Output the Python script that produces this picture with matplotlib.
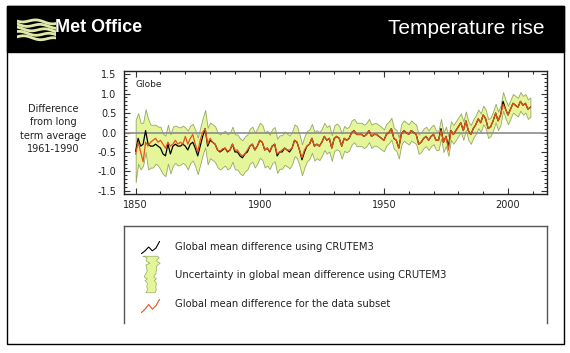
import numpy as np
import matplotlib
matplotlib.use("Agg")
import matplotlib.pyplot as plt
from matplotlib.patches import Rectangle
from matplotlib.ticker import MultipleLocator

# ---------------- data ----------------
years = list(range(1850, 2010))

crutem3 = [
    -0.48, -0.15, -0.35, -0.30, 0.05, -0.30, -0.35, -0.35, -0.30, -0.35,
    -0.40, -0.55, -0.60, -0.30, -0.55, -0.35, -0.30, -0.35, -0.35, -0.30,
    -0.35, -0.45, -0.30, -0.25, -0.40, -0.60, -0.35, -0.10, 0.10, -0.35,
    -0.20, -0.25, -0.30, -0.45, -0.50, -0.45, -0.40, -0.50, -0.45, -0.30,
    -0.50, -0.50, -0.60, -0.65, -0.55, -0.50, -0.35, -0.30, -0.45, -0.35,
    -0.20, -0.25, -0.45, -0.40, -0.50, -0.35, -0.30, -0.60, -0.50, -0.50,
    -0.40, -0.45, -0.50, -0.40, -0.20, -0.25, -0.45, -0.70, -0.50, -0.35,
    -0.30, -0.15, -0.35, -0.30, -0.35, -0.25, -0.10, -0.20, -0.15, -0.40,
    -0.15, -0.10, -0.15, -0.35, -0.15, -0.20, -0.15, 0.00, 0.05, -0.05,
    -0.05, -0.05, -0.10, -0.05, 0.05, -0.10, -0.05, -0.05, -0.10, -0.15,
    -0.20, -0.05, 0.00, 0.10, -0.15, -0.20, -0.40, -0.05, 0.05, 0.00,
    -0.05, 0.05, 0.00, -0.05, -0.30, -0.25, -0.15, -0.10, -0.20, -0.10,
    -0.05, -0.20, -0.20, 0.10, -0.25, -0.10, -0.35, 0.05, -0.05, 0.05,
    0.15, 0.25, 0.05, 0.30, 0.05, -0.05, 0.10, 0.20, 0.35, 0.25,
    0.45, 0.35, 0.10, 0.15, 0.30, 0.50, 0.30, 0.45, 0.80, 0.60,
    0.45, 0.60, 0.75, 0.70, 0.65, 0.80, 0.70, 0.75, 0.60, 0.65,
]

subset = [
    -0.55, -0.25, -0.50, -0.75, -0.25, -0.35, -0.25, -0.20, -0.15, -0.25,
    -0.20, -0.30, -0.40, -0.25, -0.35, -0.30, -0.20, -0.30, -0.25, -0.30,
    -0.10, -0.30, -0.15, -0.05, -0.30, -0.50, -0.20, 0.00, 0.10, -0.30,
    -0.15, -0.25, -0.30, -0.45, -0.48, -0.42, -0.40, -0.48, -0.45, -0.30,
    -0.45, -0.45, -0.55, -0.60, -0.55, -0.45, -0.35, -0.30, -0.45, -0.35,
    -0.20, -0.25, -0.45, -0.40, -0.48, -0.35, -0.30, -0.55, -0.50, -0.45,
    -0.40, -0.45, -0.45, -0.40, -0.20, -0.25, -0.45, -0.65, -0.45, -0.35,
    -0.30, -0.15, -0.35, -0.30, -0.35, -0.25, -0.10, -0.20, -0.15, -0.40,
    -0.15, -0.10, -0.15, -0.35, -0.15, -0.20, -0.15, 0.00, 0.05, -0.05,
    -0.05, -0.05, -0.10, -0.05, 0.05, -0.10, -0.05, -0.05, -0.10, -0.15,
    -0.20, -0.05, 0.00, 0.10, -0.15, -0.20, -0.40, -0.05, 0.05, 0.00,
    -0.05, 0.05, 0.00, -0.05, -0.30, -0.25, -0.15, -0.10, -0.20, -0.10,
    -0.05, -0.20, -0.20, 0.05, -0.25, -0.10, -0.45, 0.05, -0.05, 0.05,
    0.15, 0.25, 0.05, 0.30, 0.05, -0.05, 0.10, 0.20, 0.35, 0.25,
    0.45, 0.35, 0.10, 0.15, 0.30, 0.50, 0.30, 0.45, 0.72, 0.60,
    0.45, 0.60, 0.75, 0.70, 0.65, 0.80, 0.70, 0.75, 0.60, 0.65,
]

half_width = [
    0.80, 0.65, 0.60, 0.55, 0.55, 0.65, 0.55, 0.55, 0.50, 0.50,
    0.55, 0.52, 0.52, 0.50, 0.50, 0.50, 0.48, 0.50, 0.48, 0.48,
    0.48, 0.50, 0.48, 0.47, 0.47, 0.47, 0.47, 0.47, 0.48, 0.47,
    0.46, 0.46, 0.46, 0.45, 0.45, 0.45, 0.45, 0.45, 0.45, 0.45,
    0.45, 0.45, 0.45, 0.45, 0.45, 0.45, 0.45, 0.45, 0.45, 0.45,
    0.45, 0.45, 0.45, 0.45, 0.44, 0.44, 0.44, 0.44, 0.43, 0.43,
    0.43, 0.42, 0.42, 0.42, 0.41, 0.41, 0.40, 0.40, 0.40, 0.39,
    0.38, 0.37, 0.37, 0.36, 0.36, 0.35, 0.35, 0.34, 0.34, 0.33,
    0.33, 0.33, 0.32, 0.32, 0.32, 0.31, 0.31, 0.31, 0.30, 0.30,
    0.30, 0.30, 0.30, 0.30, 0.30, 0.30, 0.29, 0.29, 0.29, 0.29,
    0.28, 0.28, 0.28, 0.28, 0.27, 0.27, 0.27, 0.27, 0.26, 0.26,
    0.26, 0.26, 0.25, 0.25, 0.25, 0.25, 0.25, 0.25, 0.25, 0.25,
    0.25, 0.25, 0.25, 0.25, 0.25, 0.25, 0.25, 0.24, 0.24, 0.24,
    0.24, 0.24, 0.24, 0.24, 0.24, 0.24, 0.24, 0.24, 0.24, 0.24,
    0.24, 0.24, 0.24, 0.24, 0.24, 0.24, 0.24, 0.24, 0.24, 0.24,
    0.24, 0.24, 0.24, 0.24, 0.24, 0.24, 0.24, 0.24, 0.25, 0.25,
]

yticks = [-1.5, -1.0, -0.5, 0.0, 0.5, 1.0, 1.5]
ytick_labels = ["-1.5", "-1.0", "-0.5", "0.0", "0.5", "1.0", "1.5"]
xticks = [1850, 1900, 1950, 2000]
xtick_labels = ["1850", "1900", "1950", "2000"]
legend_labels = [
    "Global mean difference using CRUTEM3",
    "Uncertainty in global mean difference using CRUTEM3",
    "Global mean difference for the data subset",
]
brand = "Met Office"
title = "Temperature rise"
region = "Globe"
ylabel = "Difference\nfrom long\nterm average\n1961-1990"

# ---------------- styles ----------------
BAND_FC = "#e4f59a"
BAND_EC = "#96a866"
ORANGE = "#e5541b"
TXT = "#222222"

W, H = 570, 353
fig = plt.figure(figsize=(W / 100, H / 100), dpi=100)
fig.patch.set_facecolor("white")


def fx(px):
    return px / W


def fy(py):
    return 1 - py / H


def px_axes(x0, y0, x1, y1, z=1):
    a = fig.add_axes([fx(x0), fy(y1), fx(x1) - fx(x0), fy(y0) - fy(y1)])
    a.set_zorder(z)
    return a


# outer frame and header
fig.patches.append(Rectangle((fx(7), fy(344)), fx(564) - fx(7), fy(6) - fy(344),
                             transform=fig.transFigure, fill=False, ec="black", lw=1.0, zorder=-2))
fig.patches.append(Rectangle((fx(7), fy(52)), fx(564) - fx(7), fy(6) - fy(52),
                             transform=fig.transFigure, fc="black", ec="black", lw=1.0, zorder=-2))

# logo waves
lg = px_axes(17, 16, 56, 42, z=5)
lg.set_axis_off()
lg.patch.set_alpha(0)
lg.set_xlim(0, 1)
lg.set_ylim(-0.15, 1.1)
t = np.linspace(0, 1, 60)
for i in range(5):
    lg.plot(t, 0.1 + i * 0.2 + 0.07 * np.sin(2 * np.pi * (1.3 * t + 0.15 * i)) - 0.12 * t,
            color="#dfeaa8", lw=2.0, solid_capstyle="round")

fig.text(fx(55), fy(28), brand, color="white", fontsize=13, fontweight="bold",
         family=["Liberation Sans", "DejaVu Sans"], va="center", ha="left", zorder=6)
fig.text(fx(545), fy(28), title, color="white", fontsize=15,
         family=["Liberation Sans", "DejaVu Sans"], va="center", ha="right", zorder=6)

# ---------------- main chart ----------------
yr = np.array(years)
c3 = np.array(crutem3)
hw = np.array(half_width)
ax = px_axes(124, 71, 547, 194)
ax.fill_between(yr, c3 - hw, c3 + hw, facecolor=BAND_FC, edgecolor=BAND_EC, lw=0.6, zorder=1)
ax.axhline(0.0, color="#8c8c8c", lw=1.2, zorder=2)
ax.plot(yr, c3, color="black", lw=0.9, zorder=3)
ax.plot(yr, subset, color=ORANGE, lw=0.9, zorder=4)

ax.set_xlim(1845.3, 2015.7)
ax.set_ylim(-1.58, 1.58)
ax.set_xticks(xticks)
ax.set_xticklabels(xtick_labels)
ax.set_yticks(yticks)
ax.set_yticklabels(ytick_labels)
ax.xaxis.set_minor_locator(MultipleLocator(10))
ax.yaxis.set_minor_locator(MultipleLocator(0.1))
ax.tick_params(which="both", direction="in", top=True, right=True, color="#333333", width=0.8)
ax.tick_params(which="major", length=4)
ax.tick_params(which="minor", length=2.2)
ax.tick_params(axis="y", labelsize=7, pad=5.5, labelcolor=TXT)
ax.tick_params(axis="x", labelsize=7, pad=4.5, labelcolor=TXT)
for s in ax.spines.values():
    s.set_color("#222222")
    s.set_linewidth(1.0)
ax.text(1850, 1.24, region, fontsize=6.5, color=TXT, va="center", ha="left")

fig.text(fx(53), fy(129), ylabel, fontsize=7, color=TXT, ha="center", va="center",
         linespacing=1.45)

# ---------------- legend ----------------
lax = px_axes(124, 226, 547, 323)
lax.set_xlim(0, 1)
lax.set_ylim(0, 1)
lax.set_xticks([])
lax.set_yticks([])
lax.patch.set_alpha(0)
lax.spines["bottom"].set_visible(False)
for k in ("left", "right", "top"):
    lax.spines[k].set_color("#555555")
    lax.spines[k].set_linewidth(1.0)

rows_px = [247, 275, 304]
for lab, rpx in zip(legend_labels, rows_px):
    lax.text((175 - 124) / 423, (323 - rpx) / 97, lab, fontsize=7.2, color=TXT,
             va="center", ha="left")

# legend icons drawn from snippets of the data
i0, i1 = years.index(1993), years.index(1999)
ic1 = px_axes(141, 241, 160, 254, z=3)
ic1.plot(yr[i0:i1], c3[i0:i1], color="black", lw=0.8)
ic3 = px_axes(141, 299, 160, 313, z=3)
ic3.plot(yr[i0:i1], np.array(subset)[i0:i1], color=ORANGE, lw=0.8)
ic2 = px_axes(142, 255, 160, 293, z=3)
j0, j1 = 0, 22
ic2.fill_betweenx(yr[j0:j1], (c3 - hw)[j0:j1], (c3 + hw)[j0:j1],
                  facecolor=BAND_FC, edgecolor=BAND_EC, lw=0.5)
ic2.invert_yaxis()
for a in (ic1, ic2, ic3):
    a.set_axis_off()
    a.patch.set_alpha(0)
    a.margins(0.02)

fig.savefig("out.png", dpi=100, facecolor="white")
